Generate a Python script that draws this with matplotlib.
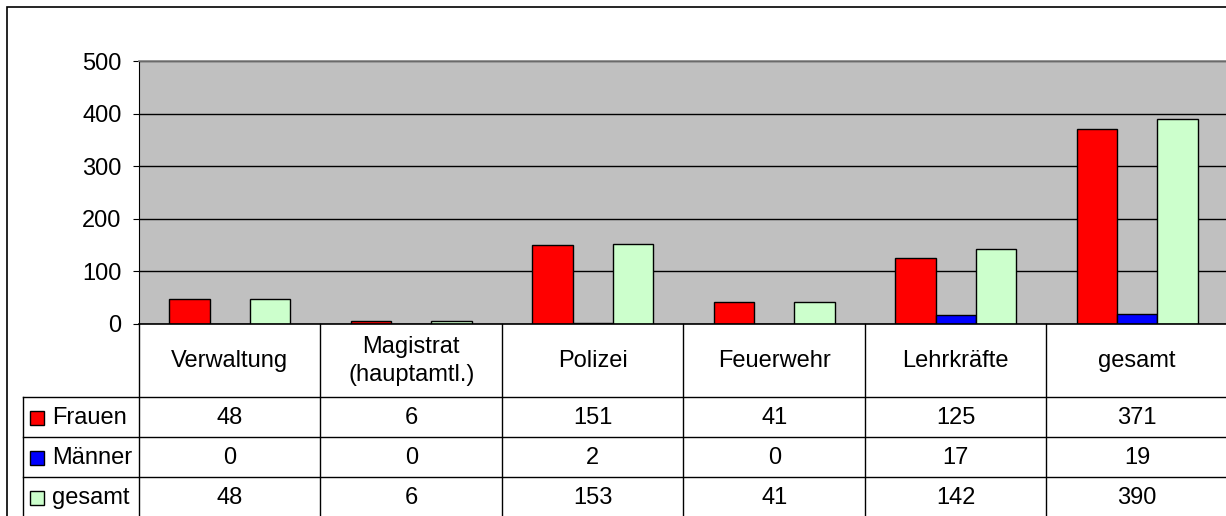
import matplotlib.pyplot as plt
from matplotlib.patches import Rectangle
import numpy as np

plt.rcParams['font.family'] = ['Liberation Sans', 'DejaVu Sans']

categories = ["Verwaltung", "Magistrat\n(hauptamtl.)", "Polizei", "Feuerwehr", "Lehrkräfte", "gesamt"]
series_names = ["Frauen", "Männer", "gesamt"]
frauen = [48, 6, 151, 41, 125, 371]
maenner = [0, 0, 2, 0, 17, 19]
gesamt = [48, 6, 153, 41, 142, 390]
colors = ["#FF0000", "#0000FF", "#CCFFCC"]
yticks = [0, 100, 200, 300, 400, 500]
fs = 17

W, H = 1226, 516
fig = plt.figure(figsize=(W / 100, H / 100), dpi=100)

# outer chart frame
fig.add_artist(Rectangle((7 / W, -0.1), 1.2, 1 - 7 / H + 0.1, transform=fig.transFigure,
                         fill=False, edgecolor="black", lw=1.2))

x0, x1 = 139, 1228
ax = fig.add_axes([x0 / W, (H - 324) / H, (x1 - x0) / W, (324 - 61) / H])
ax.set_facecolor("#C0C0C0")
x = np.arange(len(categories))
bw = 1 / 4.5
for i, vals in enumerate([frauen, maenner, gesamt]):
    ax.bar(x + (i - 1) * bw, vals, bw, color=colors[i], edgecolor="black", lw=1, zorder=3)
ax.set_xlim(-0.5, len(categories) - 0.5)
ax.set_ylim(0, 500)
ax.set_yticks(yticks)
ax.set_xticks([])
ax.tick_params(axis="y", length=4.5, pad=8, labelsize=fs, direction="out")
ax.grid(axis="y", color="black", lw=1, zorder=1)
for s in ["top", "right"]:
    ax.spines[s].set_color("#808080")
    ax.spines[s].set_linewidth(1.2)
ax.spines["left"].set_color("black")
ax.spines["bottom"].set_color("black")
ax.spines["bottom"].set_linewidth(1.2)
ax.spines["bottom"].set_zorder(5)

# data table below the plot
tb = fig.add_axes([x0 / W, -1 / H, (x1 - x0) / W, 193 / H])
tb.set_xlim(-0.5, len(categories) - 0.5)
tb.set_ylim(193, 0)
tb.axis("off")
lx = -0.5 - (139 - 23) / 181.5
row_lines = [73, 113, 153, 193]
for b in np.arange(-0.5, len(categories), 1.0):
    tb.plot([b, b], [0, 193], color="black", lw=1, clip_on=False)
tb.plot([lx, lx], [73, 193], color="black", lw=1, clip_on=False)
for r in row_lines[:3]:
    tb.plot([lx, len(categories) - 0.5], [r, r], color="black", lw=1, clip_on=False)

for i, c in enumerate(categories):
    tb.text(i, 37, c, ha="center", va="center", fontsize=fs, linespacing=1.3)

kw = 14 / 181.5
for j, (name, vals) in enumerate(zip(series_names, [frauen, maenner, gesamt])):
    yc = 94 + 40 * j
    tb.add_patch(Rectangle((lx + 7 / 181.5, yc - 7), kw, 14, facecolor=colors[j],
                           edgecolor="black", lw=1, clip_on=False))
    tb.text(lx + 29 / 181.5, yc, name, ha="left", va="center", fontsize=fs, clip_on=False)
    for i, v in enumerate(vals):
        tb.text(i, yc, str(v), ha="center", va="center", fontsize=fs)

fig.savefig("out.png", dpi=100)
